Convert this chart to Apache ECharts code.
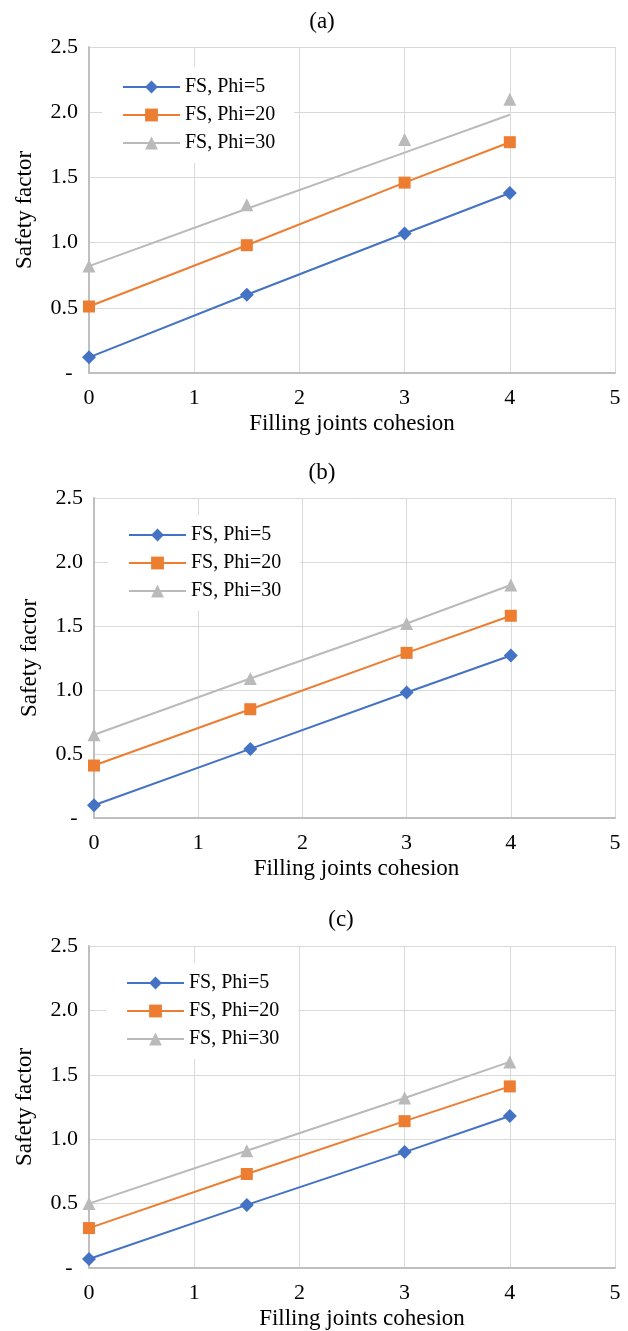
<!DOCTYPE html>
<html>
<head>
<meta charset="utf-8">
<script src="https://cdn.jsdelivr.net/npm/echarts@6/dist/echarts.min.js"></script>
<style>
  html, body { margin: 0; padding: 0; background: #fff; }
  #main { width: 628px; height: 1331px; }
</style>
</head>
<body>
<div id="main"></div>
<script>
    // x values (filling joints cohesion)
    var cohesion = [0, 1.5, 3, 4];
    var seriesNames = ['FS, Phi=5', 'FS, Phi=20', 'FS, Phi=30'];
    var panelTitles = ['(a)', '(b)', '(c)'];

    // panel (a)
    var a_phi5 = [0.12, 0.60, 1.07, 1.38];
    var a_phi20 = [0.51, 0.98, 1.46, 1.77];
    var a_phi30 = [0.82, 1.29, 1.79, 2.10];
    var a_phi30Line = [0.82, 1.26, 1.69, 1.98];   // drawn line doesn't go through the markers
    // panel (b)
    var b_phi5 = [0.10, 0.54, 0.98, 1.27];
    var b_phi20 = [0.41, 0.85, 1.29, 1.58];
    var b_phi30 = [0.65, 1.09, 1.52, 1.82];
    // panel (c)
    var c_phi5 = [0.07, 0.49, 0.90, 1.18];
    var c_phi20 = [0.31, 0.73, 1.14, 1.41];
    var c_phi30 = [0.50, 0.91, 1.32, 1.60];

    var xTicks = [0, 1, 2, 3, 4, 5];
    var yTicks = [0, 0.5, 1.0, 1.5, 2.0, 2.5];

    var colors = ['#4472C4', '#ED7D31', '#BABABA'];
    var symbols = ['diamond', 'rect', 'triangle'];
    var symbolSizes = [14, 12, 13];
    var font = "'Liberation Serif', 'Times New Roman', serif";

    var grids = [
        { left: 89, top: 47, width: 526, height: 326 },
        { left: 94, top: 498, width: 521, height: 320 },
        { left: 89, top: 946, width: 526, height: 324 }
    ];
    var titlePos = [[317, 5], [317, 456], [336, 903]];
    var legendPos = [[102, 67], [108, 515], [106, 963]];
    var xNamePad = [0, 4, 20];

    function pairs(ys) {
        return cohesion.map(function (x, i) { return [x, ys[i]]; });
    }

    var panels = [
        [a_phi5, a_phi20, a_phi30],
        [b_phi5, b_phi20, b_phi30],
        [c_phi5, c_phi20, c_phi30]
    ];

    var chart = echarts.init(document.getElementById('main'));
    var option = {
        animation: false,
        textStyle: { fontFamily: font, color: '#000' },
        title: [], grid: [], xAxis: [], yAxis: [], legend: [], series: []
    };

    panels.forEach(function (vals, p) {
        option.title.push({
            text: panelTitles[p],
            left: titlePos[p][0], top: titlePos[p][1],
            textAlign: 'center',
            textStyle: { fontFamily: font, fontSize: 23, fontWeight: 'normal', color: '#000' }
        });
        option.grid.push(grids[p]);
        option.xAxis.push({
            type: 'value', gridIndex: p,
            min: xTicks[0], max: xTicks[xTicks.length - 1], interval: 1,
            name: 'Filling joints cohesion', nameLocation: 'middle', nameGap: 39,
            nameTextStyle: { fontFamily: font, fontSize: 23, color: '#000', padding: [0, 0, 0, xNamePad[p]] },
            axisLine: { lineStyle: { color: '#BFBFBF', width: 2 } },
            axisTick: { show: false },
            axisLabel: { fontFamily: font, fontSize: 22, color: '#000', margin: 14 },
            splitLine: { lineStyle: { color: '#D9D9D9', width: 1 } }
        });
        option.yAxis.push({
            type: 'value', gridIndex: p,
            min: yTicks[0], max: yTicks[yTicks.length - 1], interval: 0.5,
            name: 'Safety factor', nameLocation: 'middle', nameGap: 53, nameRotate: 90,
            nameTextStyle: { fontFamily: font, fontSize: 23, color: '#000' },
            axisLine: { show: true, lineStyle: { color: '#BFBFBF', width: 2 } },
            axisTick: { show: false },
            axisLabel: {
                fontFamily: font, fontSize: 22, color: '#000', margin: 11,
                formatter: function (v) { return v === 0 ? '- ' : v.toFixed(1); }
            },
            splitLine: { lineStyle: { color: '#D9D9D9', width: 1 } }
        });
        option.legend.push({
            data: seriesNames.map(function (n, i) {
                return { name: n, lineStyle: { color: colors[i], width: 2, opacity: 1 } };
            }),
            orient: 'vertical',
            left: legendPos[p][0], top: legendPos[p][1],
            padding: [10, 19, 10, 20],
            backgroundColor: '#fff',
            itemWidth: 57, itemHeight: 16, itemGap: 8,
            textStyle: { fontFamily: font, fontSize: 20, color: '#000' }
        });

        if (p === 0) {
            // trend line for Phi=30 in panel (a), markers are drawn separately
            option.series.push({
                name: 'phi30-line-a', type: 'line',
                xAxisIndex: 0, yAxisIndex: 0,
                data: pairs(a_phi30Line),
                symbol: 'none',
                lineStyle: { color: colors[2], width: 2 },
                silent: true
            });
        }
        vals.forEach(function (ys, i) {
            var hideLine = (p === 0 && i === 2);
            option.series.push({
                name: seriesNames[i], type: 'line',
                xAxisIndex: p, yAxisIndex: p,
                data: pairs(ys),
                symbol: symbols[i], symbolSize: symbolSizes[i],
                itemStyle: { color: colors[i] },
                lineStyle: { color: colors[i], width: 2, opacity: hideLine ? 0 : 1 }
            });
        });
    });

    chart.setOption(option);
</script>
</body>
</html>
